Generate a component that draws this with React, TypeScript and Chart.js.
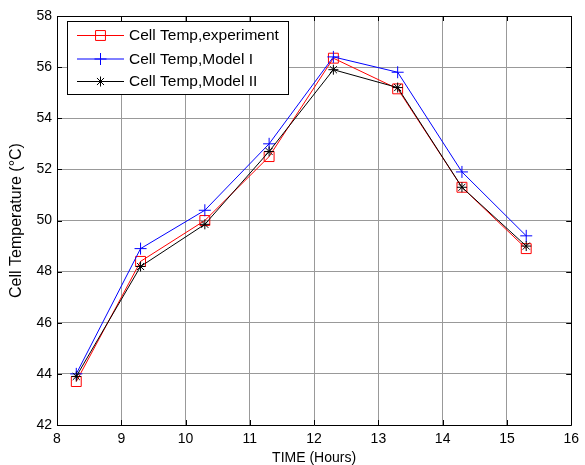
import React, { useEffect, useRef } from "react";
import { Chart, registerables } from "chart.js";

Chart.register(...registerables);

const hours = [8.3, 9.3, 10.3, 11.3, 12.3, 13.3, 14.3, 15.3];
const experiment = [43.7, 48.4, 50.0, 52.5, 56.35, 55.15, 51.3, 48.9];
const modelI = [44.0, 48.9, 50.4, 53.0, 56.4, 55.8, 51.9, 49.4];
const modelII = [43.9, 48.2, 49.85, 52.7, 55.9, 55.2, 51.3, 49.0];
const seriesNames = ["Cell Temp,experiment", "Cell Temp,Model I", "Cell Temp,Model II"];
const xTitle = "TIME (Hours)";
const yTitle = "Cell Temperature (\u00B0C)";

const FONT = "'Liberation Sans', Arial, sans-serif";

function drawMarker(ctx: CanvasRenderingContext2D, style: string, x: number, y: number, r: number, color: string) {
  ctx.save();
  ctx.strokeStyle = color;
  ctx.lineWidth = 1;
  ctx.beginPath();
  if (style === "rect") {
    const s = Math.SQRT1_2 * r;
    ctx.rect(x - s, y - s, 2 * s, 2 * s);
  } else if (style === "cross") {
    ctx.moveTo(x - r, y);
    ctx.lineTo(x + r, y);
    ctx.moveTo(x, y - r);
    ctx.lineTo(x, y + r);
  } else {
    ctx.moveTo(x - r, y);
    ctx.lineTo(x + r, y);
    ctx.moveTo(x, y - r);
    ctx.lineTo(x, y + r);
    const d = r * Math.SQRT1_2;
    ctx.moveTo(x - d, y - d);
    ctx.lineTo(x + d, y + d);
    ctx.moveTo(x - d, y + d);
    ctx.lineTo(x + d, y - d);
  }
  ctx.stroke();
  ctx.restore();
}

const boxPlugin = {
  id: "matlabBox",
  afterDraw(chart: any) {
    const { ctx, chartArea } = chart;
    const { left, right, top, bottom } = chartArea;
    const xs = chart.scales.x;
    const ys = chart.scales.y;
    ctx.save();
    ctx.strokeStyle = "#000";
    ctx.lineWidth = 1;
    ctx.beginPath();
    ctx.rect(Math.round(left) + 0.5, Math.round(top) + 0.5, Math.round(right - left), Math.round(bottom - top));
    ctx.stroke();
    const tl = 5;
    ctx.beginPath();
    xs.ticks.forEach((t: any) => {
      const px = Math.round(xs.getPixelForValue(t.value)) + 0.5;
      ctx.moveTo(px, bottom);
      ctx.lineTo(px, bottom - tl);
      ctx.moveTo(px, top);
      ctx.lineTo(px, top + tl);
    });
    ys.ticks.forEach((t: any) => {
      const py = Math.round(ys.getPixelForValue(t.value)) + 0.5;
      ctx.moveTo(left, py);
      ctx.lineTo(left + tl, py);
      ctx.moveTo(right, py);
      ctx.lineTo(right - tl, py);
    });
    ctx.stroke();

    // legend
    const lx = 67.5, ly = 21.5, lw = 221, lh = 73;
    ctx.fillStyle = "#fff";
    ctx.fillRect(lx, ly, lw, lh);
    ctx.strokeStyle = "#000";
    ctx.strokeRect(lx, ly, lw, lh);
    const rows = [35, 58.5, 81];
    ctx.font = "15.5px " + FONT;
    ctx.textBaseline = "middle";
    ctx.textAlign = "left";
    chart.data.datasets.forEach((ds: any, i: number) => {
      const y = rows[i];
      ctx.strokeStyle = ds.borderColor;
      ctx.beginPath();
      ctx.moveTo(77, y + 0.5);
      ctx.lineTo(124, y + 0.5);
      ctx.stroke();
      drawMarker(ctx, ds.pointStyle, 100.5, y + 0.5, ds.pointRadius, ds.borderColor);
      ctx.fillStyle = "#000";
      ctx.fillText(seriesNames[i], 129, y + 1);
    });
    ctx.restore();
  },
};

export default function App() {
  const ref = useRef<HTMLCanvasElement>(null);
  useEffect(() => {
    if (!ref.current) return;
    const mk = (vals: number[]) => hours.map((h, i) => ({ x: h, y: vals[i] }));
    const chart = new Chart(ref.current, {
      type: "line",
      data: {
        datasets: [
          {
            label: seriesNames[0],
            data: mk(experiment),
            borderColor: "#ff0000",
            backgroundColor: "rgba(0,0,0,0)",
            borderWidth: 1,
            pointStyle: "rect",
            pointRadius: 7,
            pointBorderWidth: 1,
            pointBackgroundColor: "rgba(0,0,0,0)",
            order: 3,
            tension: 0,
          },
          {
            label: seriesNames[1],
            data: mk(modelI),
            borderColor: "#0000ff",
            backgroundColor: "rgba(0,0,0,0)",
            borderWidth: 1,
            pointStyle: "cross",
            pointRadius: 6,
            pointBorderWidth: 1,
            order: 2,
            tension: 0,
          },
          {
            label: seriesNames[2],
            data: mk(modelII),
            borderColor: "#000000",
            backgroundColor: "rgba(0,0,0,0)",
            borderWidth: 1,
            pointStyle: "star",
            pointRadius: 5,
            pointBorderWidth: 1,
            order: 1,
            tension: 0,
          },
        ] as any,
      },
      options: {
        animation: false,
        responsive: false,
        maintainAspectRatio: false,
        layout: { padding: { top: 16, right: 9, bottom: 0, left: 0 } },
        plugins: { legend: { display: false }, tooltip: { enabled: false } },
        scales: {
          x: {
            type: "linear",
            min: 8,
            max: 16,
            afterFit(scale: any) {
              scale.height = 40;
            },
            ticks: { stepSize: 1, color: "#000", padding: 6, font: { family: FONT, size: 14 } },
            grid: { color: "#999999", drawTicks: false, lineWidth: 1 },
            border: { display: false },
            title: { display: true, text: xTitle, color: "#000", padding: { top: 0, bottom: -2 }, font: { family: FONT, size: 14 } },
          },
          y: {
            type: "linear",
            min: 42,
            max: 58,
            afterFit(scale: any) {
              scale.width = 57;
            },
            ticks: { stepSize: 2, color: "#000", padding: 5, font: { family: FONT, size: 14 } },
            grid: { color: "#999999", drawTicks: false, lineWidth: 1 },
            border: { display: false },
            title: { display: true, text: yTitle, color: "#000", padding: { top: 7, bottom: 0 }, font: { family: FONT, size: 16 } },
          },
        },
      },
      plugins: [boxPlugin],
    });
    return () => chart.destroy();
  }, []);
  return (
    <div style={{ position: "absolute", left: 0, top: 0, width: 585, height: 465, background: "#fff" }}>
      <canvas ref={ref} width={585} height={465} style={{ width: 585, height: 465, display: "block" }} />
    </div>
  );
}
